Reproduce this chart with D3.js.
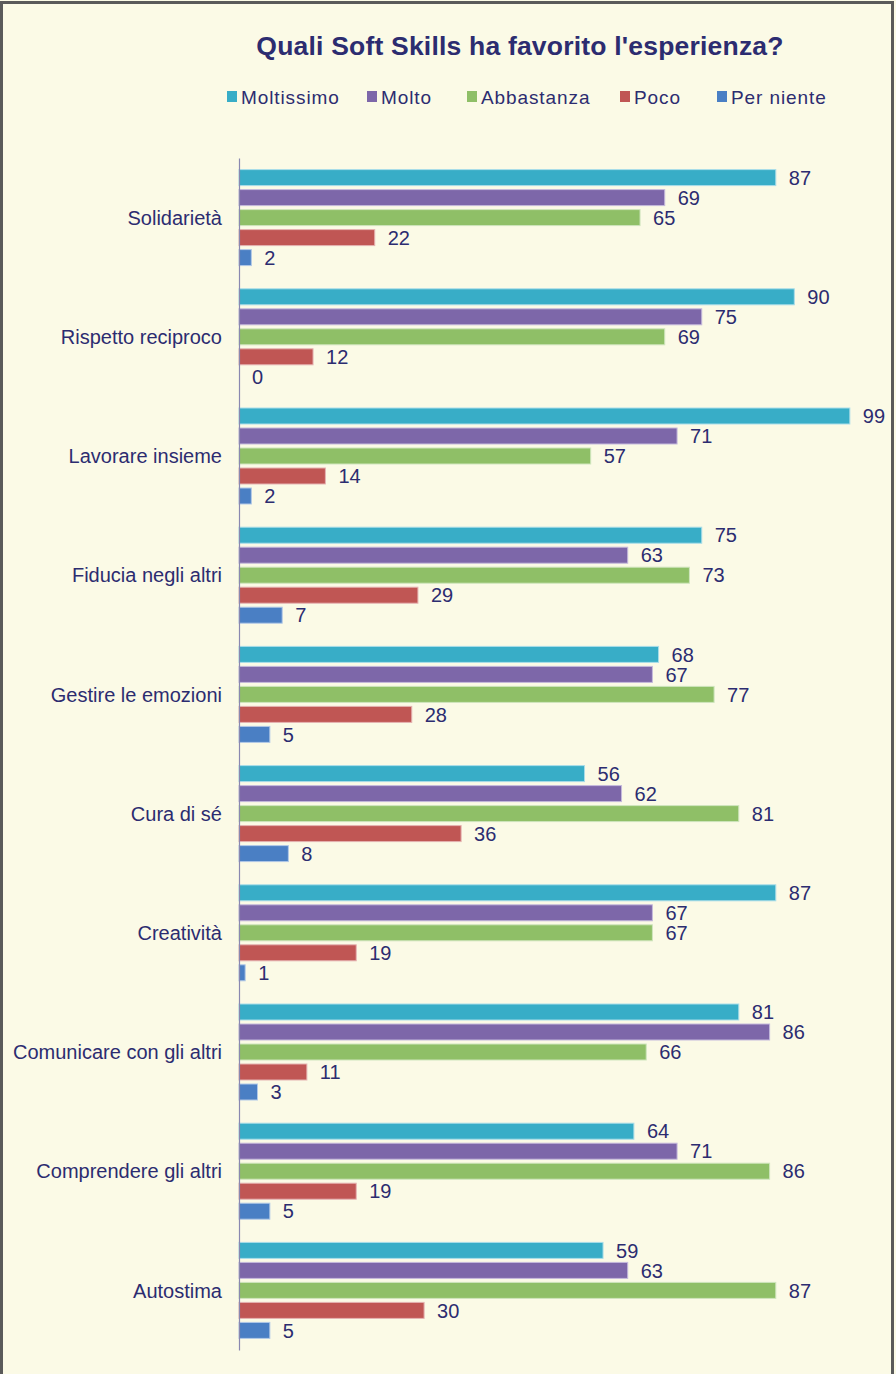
<!DOCTYPE html>
<html><head><meta charset="utf-8">
<script src="https://cdn.jsdelivr.net/npm/d3@7"></script>
<style>html,body{margin:0;padding:0;background:#fbfae6;}svg{display:block;}</style>
</head><body>
<script>
const categories = ["Solidarietà","Rispetto reciproco","Lavorare insieme","Fiducia negli altri","Gestire le emozioni","Cura di sé","Creatività","Comunicare con gli altri","Comprendere gli altri","Autostima"];
const seriesNames = ["Moltissimo","Molto","Abbastanza","Poco","Per niente"];
const moltissimo = [87,90,99,75,68,56,87,81,64,59];
const molto      = [69,75,71,63,67,62,67,86,71,63];
const abbastanza = [65,69,57,73,77,81,67,66,86,87];
const poco       = [22,12,14,29,28,36,19,11,19,30];
const perNiente  = [2,0,2,7,5,8,1,3,5,5];
const seriesValues = [moltissimo, molto, abbastanza, poco, perNiente];
const colors = ["#38adc7","#7d67a9","#8fbf67","#c05654","#4a7fc4"];
const strokes = ["#a9dde9","#c5badc","#cfe5bd","#e5b3b2","#b2c9e7"];
const textColor = "#2c2c70";
const FONT = "Liberation Sans, Arial, sans-serif";

const W = 896, H = 1374;
const svg = d3.select("body").append("svg").attr("width", W).attr("height", H);
svg.append("rect").attr("x",0).attr("y",0).attr("width",W).attr("height",H).attr("fill","#fbfae6");
svg.append("rect").attr("x",1.5).attr("y",2.5).attr("width",891).attr("height",H+10)
  .attr("fill","none").attr("stroke","#5a5a5a").attr("stroke-width",3);

svg.append("text").attr("x",520).attr("y",55).attr("text-anchor","middle")
  .attr("font-family",FONT).attr("font-weight","bold")
  .attr("font-size",26.5).attr("letter-spacing",0.2).attr("fill",textColor).text("Quali Soft Skills ha favorito l'esperienza?");

// legend
const legendX = [227,367,467,620,717];
const lg = svg.append("g");
seriesNames.forEach((n,i)=>{
  lg.append("rect").attr("x",legendX[i]).attr("y",91).attr("width",10).attr("height",11).attr("fill",colors[i]);
  lg.append("text").attr("x",legendX[i]+14).attr("y",104)
    .attr("font-family",FONT).attr("font-size",19).attr("letter-spacing",0.9)
    .attr("fill",textColor).text(n);
});

const x = d3.scaleLinear().domain([0,100]).range([239, 856]);
const y = d3.scaleBand().domain(categories).range([158, 1350]).paddingInner(0).paddingOuter(0);
const groupOffset = (y.bandwidth() - 100) / 2;

const g = svg.append("g");
categories.forEach((c,ci)=>{
  const gy = y(c) + groupOffset;
  seriesNames.forEach((s,si)=>{
    const v = seriesValues[si][ci];
    const by = gy + si*20 + 2;
    const bh = 16;
    if (v > 0) {
      g.append("rect").attr("x",x(0)).attr("y",by).attr("width",x(v)-x(0)).attr("height",bh)
        .attr("fill",colors[si]).attr("stroke",strokes[si]).attr("stroke-width",1);
    }
    g.append("text").attr("x",x(v)+13).attr("y",by+bh/2).attr("dy","0.36em")
      .attr("font-family",FONT).attr("font-size",20)
      .attr("fill",textColor).text(v);
  });
  g.append("text").attr("x",222).attr("y",y(c)+y.bandwidth()/2).attr("dy","0.36em")
    .attr("text-anchor","end")
    .attr("font-family",FONT).attr("font-size",20)
    .attr("fill",textColor).text(c);
});

const axis = d3.axisLeft(y).tickSize(0).tickFormat("");
svg.append("g").attr("transform",`translate(${x(0)},0)`).call(axis)
  .call(s=>s.select(".domain").attr("stroke","#8a88b0").attr("stroke-width",1.2));
</script>
</body></html>
